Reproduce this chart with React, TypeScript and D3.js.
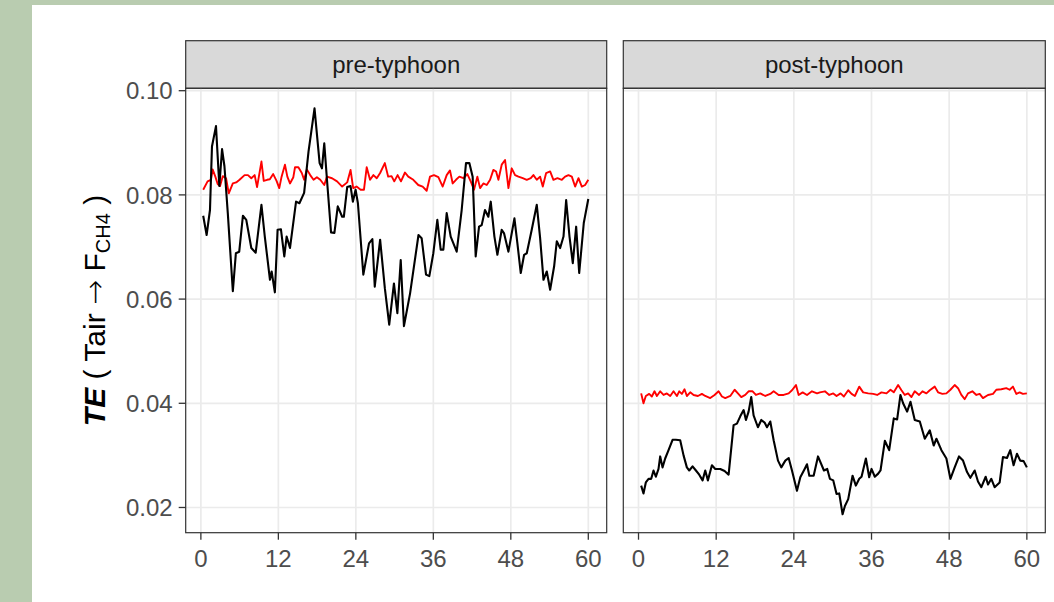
import React from "react";
import * as d3 from "d3";

// ---------- data ----------
const panels = ["pre-typhoon", "post-typhoon"];
const xTicks = [0, 12, 24, 36, 48, 60];
const yTicks = [0.02, 0.04, 0.06, 0.08, 0.1];
const yTickLabels = ["0.02", "0.04", "0.06", "0.08", "0.10"];

// black line: observed TE, pre-typhoon  [time, TE]
const preObserved: [number, number][] = [
  [0.36, 0.076], [0.89, 0.0723], [1.41, 0.0771], [1.72, 0.0893], [2.34, 0.0932], [2.86, 0.0817],
  [3.28, 0.0888], [3.65, 0.0855], [4.17, 0.0765], [4.95, 0.0615], [5.42, 0.0688], [5.94, 0.0691],
  [6.51, 0.076], [7.03, 0.0752], [7.81, 0.0698], [8.49, 0.0689], [9.38, 0.0781], [9.9, 0.072],
  [10.7, 0.0637], [10.96, 0.0653], [11.46, 0.0613], [11.88, 0.0733], [12.4, 0.0734], [12.92, 0.0682],
  [13.28, 0.072], [13.8, 0.0698], [14.74, 0.0787], [15.26, 0.0784], [15.99, 0.0804], [16.67, 0.0883],
  [17.6, 0.0966], [18.39, 0.0861], [18.75, 0.0851], [19.11, 0.0899], [19.53, 0.0829], [20.16, 0.0728],
  [20.68, 0.0727], [21.2, 0.0778], [21.88, 0.0758], [22.14, 0.0758], [22.66, 0.0815], [23.18, 0.0817],
  [23.54, 0.0787], [23.96, 0.081], [24.32, 0.0784], [25.16, 0.0647], [26.04, 0.0707], [26.56, 0.0715],
  [26.93, 0.0624], [27.76, 0.0714], [28.49, 0.0621], [29.17, 0.0551], [29.9, 0.063], [30.43, 0.0573],
  [30.95, 0.0675], [31.45, 0.0548], [32.4, 0.0611], [33.7, 0.0723], [34.19, 0.0717], [34.87, 0.0647],
  [35.38, 0.0644], [36, 0.0688], [36.62, 0.0752], [37.14, 0.0695], [37.55, 0.0695], [38.07, 0.0765],
  [38.69, 0.072], [39.62, 0.0691], [40.39, 0.0771], [41.06, 0.0861], [41.58, 0.0861], [42.09, 0.0835],
  [42.56, 0.0682], [43.08, 0.0739], [43.49, 0.0742], [44.0, 0.0771], [44.52, 0.0758], [44.89, 0.0787],
  [45.46, 0.072], [45.92, 0.0685], [46.59, 0.0733], [46.96, 0.0726], [47.63, 0.0691], [48.56, 0.0755],
  [49.02, 0.0707], [49.54, 0.065], [50.06, 0.0685], [50.47, 0.0688], [51.24, 0.0733], [52.02, 0.0781],
  [52.54, 0.0717], [53.06, 0.0637], [53.57, 0.0653], [54.09, 0.0618], [54.71, 0.0663], [55.12, 0.0711],
  [55.64, 0.0698], [56.16, 0.072], [56.57, 0.079], [57.09, 0.072], [57.6, 0.0669], [58.12, 0.0739],
  [58.59, 0.065], [59.3, 0.0746], [60, 0.0792],
];

// red line: reference/null TE, pre-typhoon
const preReference: [number, number][] = [
  [0.36, 0.081], [1.04, 0.0826], [1.56, 0.0829], [1.82, 0.0849], [2.24, 0.0835], [2.6, 0.0821],
  [2.97, 0.0817], [3.39, 0.0836], [3.9, 0.0832], [4.32, 0.0803], [4.95, 0.0822], [5.47, 0.0824],
  [5.99, 0.0829], [6.77, 0.0838], [7.29, 0.0838], [7.81, 0.0832], [8.33, 0.0838], [8.7, 0.0815],
  [9.38, 0.0864], [9.74, 0.0827], [10.26, 0.0829], [10.68, 0.083], [11.2, 0.084], [11.72, 0.0827],
  [12.14, 0.0813], [12.5, 0.0835], [13.02, 0.0858], [13.39, 0.0835], [13.8, 0.0822], [14.32, 0.0834],
  [14.58, 0.0853], [15.1, 0.0853], [15.63, 0.0842], [15.99, 0.0829], [16.41, 0.0849], [16.93, 0.0838],
  [17.45, 0.0829], [17.97, 0.0834], [18.49, 0.0829], [19.11, 0.0819], [19.53, 0.0835], [20.31, 0.0832],
  [21.09, 0.0826], [21.88, 0.0816], [22.66, 0.0824], [23.18, 0.0848], [23.59, 0.0813], [24.11, 0.0816],
  [24.74, 0.081], [25.26, 0.081], [25.68, 0.0853], [26.2, 0.0829], [26.72, 0.0838], [27.24, 0.0832],
  [27.76, 0.0842], [28.49, 0.0861], [29.01, 0.0835], [29.53, 0.0836], [29.95, 0.0826], [30.47, 0.0838],
  [30.99, 0.0826], [31.61, 0.0843], [32.12, 0.0835], [32.9, 0.0829], [33.67, 0.0819], [34.35, 0.0816],
  [34.97, 0.0808], [35.48, 0.0835], [36.1, 0.0838], [36.78, 0.0834], [37.45, 0.0816], [38.07, 0.0838],
  [38.58, 0.0847], [39.0, 0.0822], [39.51, 0.0829], [40.03, 0.0835], [40.65, 0.0832], [41.27, 0.084],
  [41.79, 0.0826], [42.3, 0.081], [42.82, 0.0835], [43.24, 0.0813], [43.75, 0.0822], [44.27, 0.0819],
  [44.79, 0.0829], [45.3, 0.0848], [45.72, 0.0845], [46.08, 0.0829], [46.59, 0.0858], [47.11, 0.0867],
  [47.63, 0.0813], [48.14, 0.0851], [48.66, 0.0838], [49.18, 0.0835], [49.85, 0.0832], [50.47, 0.0829],
  [51.09, 0.0832], [51.5, 0.0838], [52.02, 0.0829], [52.54, 0.0835], [52.95, 0.0816], [53.47, 0.0842],
  [54.09, 0.0845], [54.6, 0.0829], [55.22, 0.0832], [55.9, 0.0829], [56.41, 0.0835], [56.93, 0.0838],
  [57.45, 0.0835], [57.96, 0.0816], [58.48, 0.0832], [59.0, 0.0816], [59.51, 0.0819], [60, 0.0829],
];

// black line: observed TE, post-typhoon
const postObserved: [number, number][] = [
  [0.41, 0.0242], [0.77, 0.0227], [1.13, 0.0248], [1.55, 0.0255], [1.96, 0.0255], [2.32, 0.0271],
  [2.68, 0.0259], [3.09, 0.0274], [3.35, 0.0298], [3.71, 0.0277], [4.12, 0.0294], [4.64, 0.031],
  [5.26, 0.033], [5.77, 0.033], [6.44, 0.0329], [6.96, 0.03], [7.47, 0.0277], [7.84, 0.0271],
  [8.35, 0.0279], [8.87, 0.0271], [9.38, 0.0263], [9.9, 0.0252], [10.31, 0.0271], [10.72, 0.0252],
  [11.34, 0.0281], [11.86, 0.0274], [12.63, 0.0274], [13.3, 0.027], [13.92, 0.0263], [14.69, 0.0358],
  [15.21, 0.0361], [15.72, 0.0375], [16.24, 0.0387], [16.6, 0.0368], [17.01, 0.0384], [17.42, 0.0412],
  [17.78, 0.0377], [18.45, 0.0354], [18.97, 0.0368], [19.48, 0.0363], [19.85, 0.0354], [20.36, 0.0365],
  [20.88, 0.0329], [21.55, 0.029], [22.06, 0.0277], [22.68, 0.029], [23.2, 0.0295], [23.71, 0.0271],
  [24.48, 0.0232], [25.0, 0.0258], [25.67, 0.0274], [26.03, 0.0283], [26.39, 0.0261], [27.06, 0.0261],
  [27.73, 0.0298], [28.65, 0.0271], [29.16, 0.0274], [29.57, 0.0255], [30.09, 0.0252], [30.6, 0.0226],
  [31.01, 0.0227], [31.53, 0.0187], [31.89, 0.0203], [32.4, 0.0216], [33.07, 0.0261], [33.58, 0.0242],
  [34.1, 0.0255], [34.46, 0.0259], [35.13, 0.0294], [35.64, 0.0258], [36.0, 0.0274], [36.51, 0.0259],
  [37.03, 0.0265], [37.39, 0.0271], [38.06, 0.0328], [38.73, 0.031], [39.44, 0.0371], [39.96, 0.0369],
  [40.47, 0.0416], [40.88, 0.04], [41.5, 0.0384], [42.02, 0.0403], [42.68, 0.0368], [43.46, 0.0365],
  [44.23, 0.0332], [45.0, 0.0348], [45.61, 0.0319], [46.03, 0.0332], [46.8, 0.031], [47.57, 0.0294],
  [48.19, 0.0255], [48.85, 0.0277], [49.52, 0.0298], [50.14, 0.029], [50.76, 0.0268], [51.27, 0.0257],
  [51.94, 0.0271], [52.45, 0.025], [52.97, 0.0239], [53.64, 0.0259], [54.0, 0.0244], [54.51, 0.0255],
  [55.02, 0.0239], [55.8, 0.0248], [56.31, 0.0297], [56.93, 0.0295], [57.44, 0.031], [57.95, 0.0281],
  [58.47, 0.0303], [58.98, 0.029], [59.5, 0.0289], [60, 0.0277],
];

// red line: reference/null TE, post-typhoon
const postReference: [number, number][] = [
  [0.41, 0.0419], [0.77, 0.04], [1.13, 0.0414], [1.65, 0.0418], [2.06, 0.0413], [2.47, 0.0423],
  [2.84, 0.0414], [3.35, 0.0423], [3.87, 0.0416], [4.38, 0.0419], [4.9, 0.0414], [5.41, 0.0423],
  [5.93, 0.0414], [6.29, 0.0423], [6.7, 0.0418], [7.11, 0.0427], [7.47, 0.0414], [7.99, 0.0421],
  [8.51, 0.0416], [9.18, 0.0414], [9.79, 0.0418], [10.31, 0.0414], [11.08, 0.041], [11.75, 0.0416],
  [12.37, 0.0423], [12.89, 0.0413], [13.4, 0.041], [14.18, 0.0414], [14.85, 0.0426], [15.36, 0.0419],
  [15.88, 0.0412], [16.49, 0.0416], [17.01, 0.0423], [17.63, 0.0423], [18.14, 0.0416], [18.81, 0.0419],
  [19.59, 0.0414], [20.36, 0.0418], [20.88, 0.0423], [21.65, 0.0416], [22.42, 0.0416], [23.2, 0.0419],
  [23.71, 0.0425], [24.33, 0.0435], [24.74, 0.0416], [25.36, 0.0421], [26.03, 0.0416], [26.8, 0.0423],
  [27.58, 0.0419], [28.03, 0.0421], [28.8, 0.0423], [29.47, 0.0416], [30.09, 0.0419], [30.6, 0.0414],
  [31.22, 0.0419], [31.73, 0.0413], [32.4, 0.0425], [32.92, 0.0418], [33.43, 0.0414], [34.1, 0.0432],
  [34.71, 0.0421], [35.49, 0.0419], [36.26, 0.0418], [36.87, 0.0416], [37.54, 0.0421], [38.31, 0.0419],
  [38.93, 0.0426], [39.44, 0.0421], [40.11, 0.0435], [40.63, 0.0425], [41.14, 0.0416], [41.66, 0.0419],
  [42.17, 0.0412], [42.68, 0.0423], [43.35, 0.0416], [43.87, 0.0423], [44.48, 0.0419], [45.0, 0.0425],
  [45.77, 0.0432], [46.28, 0.0421], [46.95, 0.0418], [47.57, 0.0419], [48.19, 0.0426], [48.85, 0.0435],
  [49.37, 0.0429], [49.88, 0.0416], [50.4, 0.0408], [50.91, 0.0419], [51.58, 0.0423], [52.2, 0.0416],
  [52.71, 0.0418], [53.22, 0.041], [54.0, 0.0416], [54.77, 0.0418], [55.28, 0.0426], [56.05, 0.0427],
  [56.82, 0.0429], [57.34, 0.0426], [57.85, 0.0432], [58.37, 0.0418], [58.88, 0.0421], [59.39, 0.0418],
  [60, 0.0419],
];

const panelSeries = [
  { observed: preObserved, reference: preReference },
  { observed: postObserved, reference: postReference },
];

// ---------- layout ----------
const W = 1054;
const H = 602;
const panelX: [number, number][] = [
  [185.7, 606.7],
  [623.3, 1045.3],
];
const stripTop = 40.7;
const panelTop = 88.3;
const panelBottom = 532.7;
const xDomain: [number, number] = [-2.35, 62.85];
const yDomain: [number, number] = [0.01516, 0.10046];

const FONT = "'Liberation Sans', Arial, Helvetica, sans-serif";

export default function App() {
  const y = d3.scaleLinear().domain(yDomain).range([panelBottom, panelTop]);

  return (
    <svg
      width={W}
      height={H}
      style={{ position: "absolute", left: 0, top: 0, display: "block" }}
      fontFamily={FONT}
    >
      <rect x={0} y={0} width={W} height={H} fill="#b9ccb0" />
      <rect x={32} y={5} width={W - 32} height={H - 5} fill="#ffffff" />

      {panels.map((name, i) => {
        const [x0, x1] = panelX[i];
        const x = d3.scaleLinear().domain(xDomain).range([x0, x1]);
        const line = d3
          .line<[number, number]>()
          .x((d) => x(d[0]))
          .y((d) => y(d[1]));
        const s = panelSeries[i];
        return (
          <g key={name}>
            {/* strip */}
            <rect
              x={x0}
              y={stripTop}
              width={x1 - x0}
              height={panelTop - stripTop}
              fill="#d9d9d9"
              stroke="#333333"
              strokeWidth={1.2}
            />
            <text
              x={(x0 + x1) / 2}
              y={73}
              textAnchor="middle"
              fontSize={24}
              fill="#1a1a1a"
            >
              {name}
            </text>
            {/* grid */}
            {yTicks.map((t) => (
              <line
                key={"gy" + t}
                x1={x0}
                x2={x1}
                y1={y(t)}
                y2={y(t)}
                stroke="#ebebeb"
                strokeWidth={1.7}
              />
            ))}
            {xTicks.map((t) => (
              <line
                key={"gx" + t}
                x1={x(t)}
                x2={x(t)}
                y1={panelTop}
                y2={panelBottom}
                stroke="#ebebeb"
                strokeWidth={1.7}
              />
            ))}
            {/* series */}
            <path d={line(s.reference) || ""} fill="none" stroke="#ff0000" strokeWidth={1.9} strokeLinejoin="round" />
            <path d={line(s.observed) || ""} fill="none" stroke="#000000" strokeWidth={2.1} strokeLinejoin="round" />
            {/* panel border */}
            <rect
              x={x0}
              y={panelTop}
              width={x1 - x0}
              height={panelBottom - panelTop}
              fill="none"
              stroke="#333333"
              strokeWidth={1.2}
            />
            {/* x axis */}
            {xTicks.map((t) => (
              <g key={"xt" + t}>
                <line x1={x(t)} x2={x(t)} y1={panelBottom} y2={panelBottom + 7} stroke="#333333" strokeWidth={1.3} />
                <text x={x(t)} y={567} textAnchor="middle" fontSize={24} fill="#4d4d4d">
                  {t}
                </text>
              </g>
            ))}
            {/* y axis on first panel */}
            {i === 0 &&
              yTicks.map((t, k) => (
                <g key={"yt" + t}>
                  <line x1={x0 - 7} x2={x0} y1={y(t)} y2={y(t)} stroke="#333333" strokeWidth={1.3} />
                  <text x={x0 - 13} y={y(t)} dy="0.36em" textAnchor="end" fontSize={24} fill="#4d4d4d">
                    {yTickLabels[k]}
                  </text>
                </g>
              ))}
          </g>
        );
      })}

      {/* y-axis title */}
      <text
        transform={`translate(105, ${(panelTop + panelBottom) / 2}) rotate(-90)`}
        textAnchor="middle"
        fontSize={30}
        fill="#000000"
      >
        <tspan fontWeight="bold" fontStyle="italic">TE</tspan>
        <tspan> ( Tair </tspan>
        <tspan fontFamily="'DejaVu Sans', sans-serif" fontWeight="200">→</tspan>
        <tspan> F</tspan>
        <tspan fontSize={20} dy={5}>CH4</tspan>
        <tspan dy={-5}> )</tspan>
      </text>
    </svg>
  );
}
